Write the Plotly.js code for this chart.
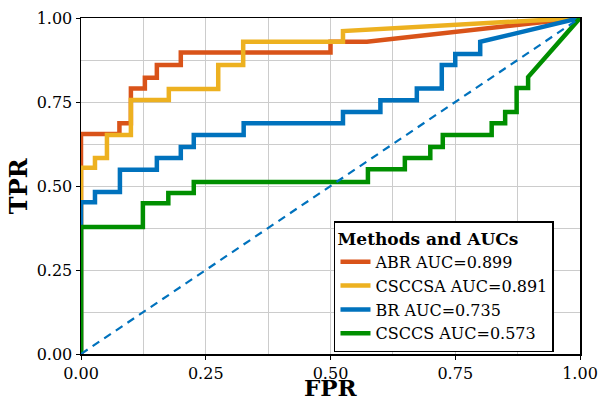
<!DOCTYPE html>
<html>
<head>
<meta charset="utf-8">
<script src="https://cdn.plot.ly/plotly-3.0.1.min.js"></script>
<style>html,body{margin:0;padding:0;background:#fff;}#chart{width:600px;height:401px;}</style>
</head>
<body>
<div id="chart"></div>
<script>
// ROC curve vertices (FPR, TPR)
const abrFpr = [0, 0, 0.077, 0.077, 0.1, 0.1, 0.128, 0.128, 0.152, 0.152, 0.2, 0.2, 0.5, 0.5, 0.573, 1];
const abrTpr = [0, 0.655, 0.655, 0.687, 0.687, 0.79, 0.79, 0.822, 0.822, 0.86, 0.86, 0.897, 0.897, 0.929, 0.929, 1];

const csccsaFpr = [0, 0, 0.028, 0.028, 0.052, 0.052, 0.1, 0.1, 0.176, 0.176, 0.275, 0.275, 0.325, 0.325, 0.525, 0.525, 1];
const csccsaTpr = [0, 0.554, 0.554, 0.583, 0.583, 0.652, 0.652, 0.756, 0.756, 0.789, 0.789, 0.86, 0.86, 0.929, 0.929, 0.961, 1];

const brFpr = [0, 0, 0.028, 0.028, 0.078, 0.078, 0.152, 0.152, 0.2, 0.2, 0.226, 0.226, 0.326, 0.326, 0.525, 0.525, 0.6, 0.6, 0.673, 0.673, 0.723, 0.723, 0.75, 0.75, 0.8, 0.8, 1];
const brTpr = [0, 0.452, 0.452, 0.482, 0.482, 0.548, 0.548, 0.583, 0.583, 0.616, 0.616, 0.652, 0.652, 0.687, 0.687, 0.72, 0.72, 0.755, 0.755, 0.79, 0.79, 0.86, 0.86, 0.893, 0.893, 0.929, 1];

const csccsFpr = [0, 0, 0.124, 0.124, 0.175, 0.175, 0.226, 0.226, 0.575, 0.575, 0.649, 0.649, 0.7, 0.7, 0.725, 0.725, 0.823, 0.823, 0.85, 0.85, 0.873, 0.873, 0.896, 0.896, 1];
const csccsTpr = [0, 0.378, 0.378, 0.449, 0.449, 0.479, 0.479, 0.512, 0.512, 0.55, 0.55, 0.583, 0.583, 0.616, 0.616, 0.652, 0.652, 0.687, 0.687, 0.72, 0.72, 0.792, 0.792, 0.824, 1];

const chanceLine = [0, 1];

const seriesNames = ['ABR AUC=0.899', 'CSCCSA AUC=0.891', 'BR AUC=0.735', 'CSCCS AUC=0.573'];
const tickVals = [0, 0.25, 0.5, 0.75, 1];
const tickText = ['0.00', '0.25', '0.50', '0.75', '1.00'];
const xTitle = 'FPR';
const yTitle = 'TPR';

const colors = ['#D95319', '#EDB120', '#0072BD', '#008F00'];
const FONT = 'DejaVu Serif, serif';

const xs = [abrFpr, csccsaFpr, brFpr, csccsFpr];
const ys = [abrTpr, csccsaTpr, brTpr, csccsTpr];

const traces = xs.map((x, i) => ({
  x: x, y: ys[i], type: 'scatter', mode: 'lines', name: seriesNames[i],
  line: {color: colors[i], width: 4.5}
}));
traces.push({
  x: chanceLine, y: chanceLine, type: 'scatter', mode: 'lines', showlegend: false,
  line: {color: '#0072BD', width: 2.2, dash: '8px,6px'}
});

const axisCommon = {
  range: [0, 1], tickvals: tickVals, ticktext: tickText,
  showline: true, linecolor: '#000', linewidth: 1.5, mirror: true,
  ticks: 'outside', ticklen: 4, tickcolor: '#000', tickwidth: 1,
  showgrid: true, gridcolor: '#cccccc', gridwidth: 1,
  minor: {dtick: 0.125, tick0: 0, showgrid: true, gridcolor: '#cccccc', gridwidth: 1},
  zeroline: false, tickfont: {family: FONT, size: 16, color: '#000'}
};

const layout = {
  width: 600, height: 401,
  margin: {l: 81, r: 20, t: 18, b: 47},
  paper_bgcolor: '#fff', plot_bgcolor: '#fff',
  xaxis: Object.assign({}, axisCommon),
  yaxis: Object.assign({}, axisCommon),
  annotations: [
    {text: '<b>' + xTitle + '</b>', xref: 'paper', yref: 'paper', x: 0.5, y: -0.1,
     xanchor: 'center', yanchor: 'middle', showarrow: false,
     font: {family: FONT, size: 23, color: '#000'}},
    {text: '<b>' + yTitle + '</b>', xref: 'paper', yref: 'paper', x: -0.126, y: 0.5,
     xanchor: 'center', yanchor: 'middle', showarrow: false, textangle: -90,
     font: {family: FONT, size: 24, color: '#000'}}
  ],
  legend: {
    x: 0.507, y: 0.395, xanchor: 'left', yanchor: 'top',
    bgcolor: '#fff', bordercolor: '#000', borderwidth: 1.5,
    font: {family: FONT, size: 16, color: '#000'},
    title: {text: '<b>Methods and AUCs</b>', font: {family: FONT, size: 17, color: '#000'}},
    itemwidth: 30, tracegroupgap: 0
  },
  showlegend: true
};

Plotly.newPlot('chart', traces, layout, {displayModeBar: false, staticPlot: true});
</script>
</body>
</html>
